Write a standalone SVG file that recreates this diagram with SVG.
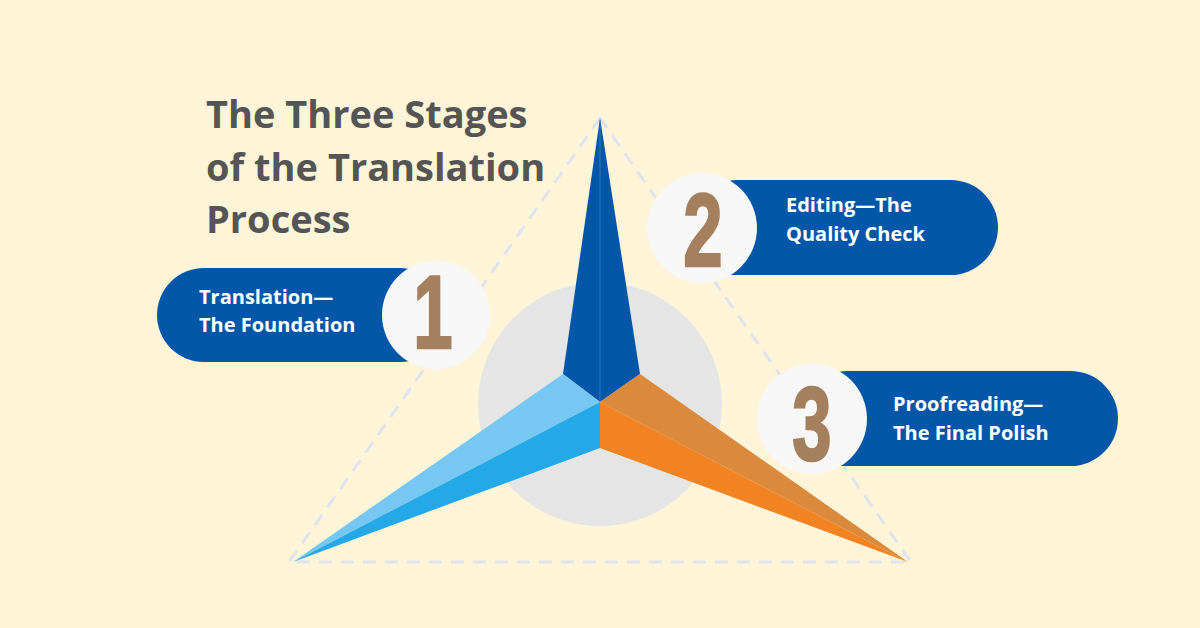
<svg xmlns="http://www.w3.org/2000/svg" width="1200" height="628" viewBox="0 0 1200 628">
<style>
.title{font-family:"Open Sans","Liberation Sans",sans-serif;font-weight:700;font-size:38px;fill:#555555}
.lbl{font-family:"Open Sans","Liberation Sans",sans-serif;font-weight:700;font-size:20px;fill:#ffffff}
.pill{fill:#0457a8}
.disc{fill:#f7f7f7}
.num{font-family:"Liberation Sans",sans-serif;font-weight:700;font-size:104px;fill:#a5805e;stroke:#a5805e;stroke-width:2.5}
</style>
<rect width="1200" height="628" fill="#fef5d9"/>
<g id="title">
<text class="title" x="206" y="128">The Three Stages</text>
<text class="title" x="206" y="181">of the Translation</text>
<text class="title" x="206" y="233">Process</text>
</g>
<g id="frame">
<polygon points="600,118 289,562 911,562" fill="none" stroke="#dfe4ec" stroke-width="3" stroke-dasharray="13,9"/>
<circle cx="600" cy="404" r="122" fill="#e5e5e5"/>
</g>
<g id="star">
<polygon points="563,374 600,118 600,402" fill="#0457a8"/>
<polygon points="640,374 600,118 600,402" fill="#0457a8"/>
<line x1="600" y1="120" x2="600" y2="402" stroke="#3d7fc2" stroke-width="0.8"/>
<polygon points="563,374 600,402 293,562" fill="#76c8f2"/>
<polygon points="600,402 600,448 293,562" fill="#24a9e8"/>
<polygon points="640,374 600,402 908,562" fill="#db8a3c"/>
<polygon points="600,402 600,448 908,562" fill="#f28322"/>
</g>
<g id="stage1">
<rect class="pill" x="157" y="268" width="290" height="94" rx="47"/>
<circle class="disc" cx="436" cy="315" r="54"/>
<text class="num" x="0" y="0" text-anchor="middle" transform="translate(433,348) scale(0.68,1)">1</text>
<text class="lbl" x="199" y="304">Translation—</text>
<text class="lbl" x="199" y="332">The Foundation</text>
</g>
<g id="stage2">
<rect class="pill" x="690" y="180" width="308" height="95" rx="47.5"/>
<circle class="disc" cx="702" cy="228" r="55"/>
<text class="num" x="0" y="0" text-anchor="middle" transform="translate(703,266) scale(0.68,1)">2</text>
<text class="lbl" x="786" y="212">Editing—The</text>
<text class="lbl" x="786" y="241">Quality Check</text>
</g>
<g id="stage3">
<rect class="pill" x="800" y="371" width="318" height="95" rx="47.5"/>
<circle class="disc" cx="812" cy="419" r="55"/>
<text class="num" x="0" y="0" text-anchor="middle" transform="translate(812,460) scale(0.68,1)">3</text>
<text class="lbl" x="893" y="411">Proofreading—</text>
<text class="lbl" x="893" y="440">The Final Polish</text>
</g>
</svg>
